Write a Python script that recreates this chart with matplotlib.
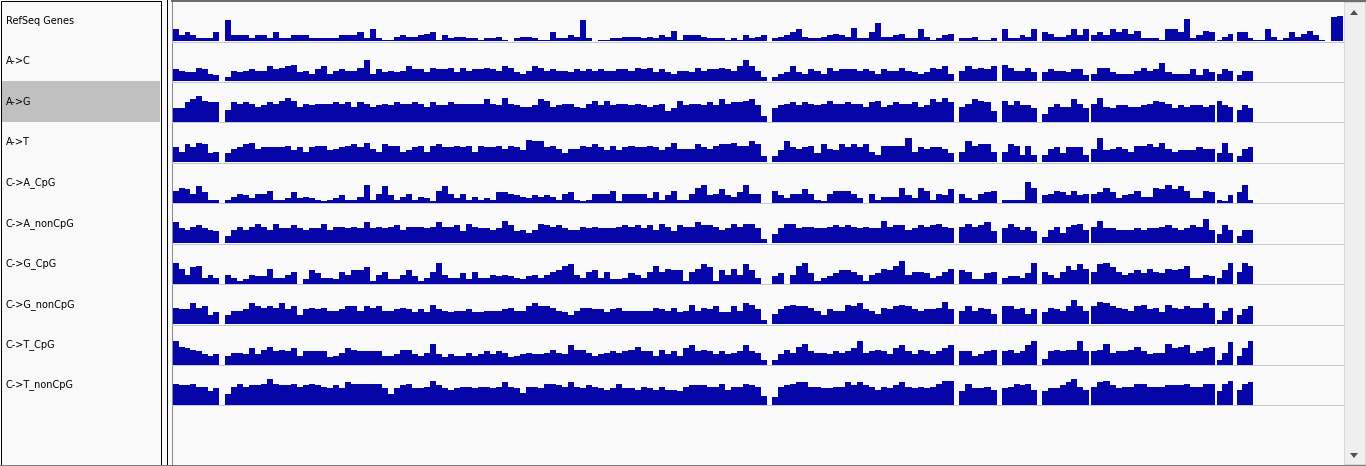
import matplotlib
matplotlib.use("Agg")
import matplotlib.pyplot as plt
import numpy as np
from matplotlib.patches import Rectangle, Polygon

# ---------------- data ----------------
TRACK_NAMES = ["RefSeq Genes", "A->C", "A->G", "A->T", "C->A_CpG", "C->A_nonCpG",
               "C->G_CpG", "C->G_nonCpG", "C->T_CpG", "C->T_nonCpG"]
HIGHLIGHTED = "A->G"

# genomic blocks with data (start, end) in screen-scale kb units
BLOCK_START = [173, 225, 772, 959, 1002, 1042, 1091, 1217, 1237, 1253]
BLOCK_END = [219, 767, 954, 997, 1037, 1089, 1215, 1233, 1253, 1343]

REFSEQ = [
    [4, 2, 3, 2, 1, 1, 1, 3],
    [7, 2, 2, 2, 1, 2, 2, 1, 3, 1, 1, 2, 2, 2, 1, 1, 1, 1, 1, 2, 2,
     2, 3, 1, 4, 1, 0.5, 0.5, 1.5, 2, 1.5, 1.5, 2, 2.5, 3, 0.5, 2, 1, 1.5, 1.5, 1, 1, 0.5, 1, 1, 1.5, 0.5, 0, 1, 1.5, 1.5, 1,
     0.5, 0.5, 3, 1, 1, 2, 1.5, 7, 1, 0, 0.5, 0.5, 1, 1, 1.5, 1.5, 1.5, 1, 1.5, 1, 2, 1.5, 3.5, 0.5, 2, 2, 2, 1.5, 1, 1, 1,
     0.5, 1, 0.5, 2, 1, 1.5, 2],
    [1, 1.5, 2, 3, 4, 1.5, 1, 1, 1.5, 2, 2.5, 2, 1.5, 4.5, 1, 1, 3, 6, 1.5, 1.5, 2, 2.5, 1, 1, 4, 1.5, 0.5, 1, 2, 2.5],
    [1, 1, 1.5, 0.5, 0.5, 1],
    [4, 1, 1, 2, 1.5, 4],
    [3, 2.5, 1.5, 1.5, 2, 4, 2, 4],
    [2, 3, 2, 4, 3, 4, 2.5, 3.5, 1, 1, 1, 0.5, 4, 4, 3, 7.5, 1, 2, 3.5, 3],
    [0.5, 1.5, 2.5],
    [3, 3, 1],
    [0.5, 0.5, 4, 1.5, 0.5, 1, 3, 1.5, 2.5, 3.5, 2, 0.5, 0, 8, 8.5],
]
A_TO_C = [
    [4, 3.5, 3, 3, 4.5, 4, 2.5, 2],
    [1.5, 3.5, 3, 3.5, 4, 3.5, 3.5, 5, 4, 4.5, 5, 5.5, 3, 3.5, 2.5, 4, 5, 2.5, 3.5, 4, 3.5,
     3.5, 4.5, 7, 2.5, 4, 3, 3.5, 3, 3.5, 5, 4, 4, 3, 4.5, 4, 4, 4.5, 3, 4.5, 3.5, 4, 4, 4.5, 4, 3.5, 5, 4.5, 3, 2.5, 3.5, 5,
     4.5, 3.5, 4, 3.5, 3.5, 3, 4, 3.5, 4, 3.5, 4, 3.5, 3.5, 4, 4, 3.5, 4.5, 4, 4.5, 3, 4, 3, 2.5, 3.5, 3.5, 3, 4.5, 3.5, 4, 4, 4.5,
     4, 3.5, 5, 7, 5, 3.5, 1.5],
    [1.5, 2.5, 3, 5, 3, 2.5, 4, 3.5, 2.5, 4.5, 3.5, 4, 4, 4, 3.5, 4, 3.5, 2.5, 4, 3.5, 3.5, 4.5, 3.5, 3, 2.5, 3, 4.5, 4, 5, 2.5],
    [3.5, 5, 4, 4.5, 4, 5],
    [5.5, 4.5, 3.5, 3.5, 4.5, 3],
    [3, 4, 3.5, 3.5, 3, 4, 4, 2],
    [2.5, 4.5, 4.5, 3, 2.5, 2.5, 2.5, 3.5, 4.5, 3.5, 4, 6, 3, 2.5, 2.5, 2.5, 4, 2, 4, 3],
    [2.5, 4, 3.5],
    [2, 3.5, 3.5],
]
A_TO_G = [
    [4.5, 4.5, 6.5, 7.5, 8.5, 7, 6.5, 6.5],
    [4, 6.5, 6, 6.5, 6, 5, 5.5, 6.5, 6, 7, 8, 7, 5, 6, 5.5, 6, 6, 6, 6.5, 6, 6.5,
     5, 6.5, 6, 5, 5.5, 6, 5.5, 6.5, 6, 6, 6.5, 6, 5, 6.5, 5.5, 5.5, 6.5, 6, 6, 6, 6, 6, 7.5, 6, 5.5, 8, 6, 5.5, 5, 5, 5.5,
     7.5, 7, 5, 5.5, 6, 6, 5, 4.5, 6, 7, 5.5, 7, 5.5, 6, 6, 5.5, 6, 5.5, 5, 5.5, 6, 3.5, 4.5, 7, 5.5, 6, 6, 5.5, 6.5, 5.5, 7.5,
     6, 6.5, 6.5, 7, 7.5, 5.5, 2],
    [4.5, 5.5, 6, 6.5, 5.5, 6.5, 6, 5.5, 6, 7, 6, 6, 6.5, 6, 6, 5, 6.5, 7, 5, 5.5, 6.5, 6, 6, 6.5, 5, 5.5, 7.5, 6.5, 8, 6.5],
    [5, 6, 7.5, 7, 6.5, 3.5],
    [7, 5.5, 7, 5.5, 5.5, 4.5],
    [2.5, 5, 6, 5, 5, 7.5, 6, 4.5],
    [6, 8, 5, 4.5, 5.5, 5.5, 5, 5, 5.5, 6, 7, 6.5, 6, 4.5, 5.5, 5, 5.5, 5.5, 5, 5.5],
    [7, 5.5, 5],
    [4, 5.5, 4.5],
]
A_TO_T = [
    [5, 3.5, 6, 5, 6.5, 6, 3, 3.5],
    [3, 4.5, 5, 6, 6.5, 4.5, 5, 5, 5, 5, 5.5, 4, 5, 3.5, 5, 5.5, 5.5, 4, 4.5, 5, 5.5,
     6, 5, 6.5, 4.5, 3.5, 6, 5.5, 5.5, 3.5, 4, 5, 5.5, 3.5, 5.5, 6, 5, 5, 5.5, 5, 5.5, 3.5, 5.5, 5, 5, 5.5, 4.5, 5.5, 5, 4, 7.5, 7,
     7, 5, 5.5, 4.5, 3, 4.5, 4.5, 5.5, 5, 6, 5, 4, 5.5, 4, 5, 5.5, 5, 5, 5.5, 5, 4, 5, 6.5, 4.5, 4.5, 4.5, 6, 5, 4.5, 5.5, 6,
     6, 6.5, 5.5, 5.5, 7, 6, 2],
    [2, 4, 7, 5, 4.5, 5, 5.5, 3, 6, 4.5, 4, 6, 5, 6, 5, 6, 3.5, 2.5, 5.5, 5.5, 5.5, 5.5, 8, 3.5, 5, 4.5, 5, 5, 4.5, 3],
    [3.5, 7, 5.5, 6, 6, 3.5],
    [3.5, 6, 5.5, 2.5, 5.5, 2.5],
    [2.5, 4.5, 5, 3, 5, 5, 5, 2.5],
    [4.5, 8, 4, 4.5, 5, 4.5, 3.5, 5.5, 5.5, 6, 5, 6.5, 4.5, 3.5, 4, 4, 4, 5, 4.5, 4.5],
    [3, 6.5, 3],
    [2, 4.5, 5],
]
C_TO_A_CPG = [
    [4, 5, 4.5, 3, 5.5, 3.5, 1, 1],
    [1, 2, 3, 2.5, 1.5, 3, 3, 4, 1, 1, 1.5, 3.5, 1.5, 2, 1.5, 1, 0.5, 1, 1.5, 2.5, 1,
     1, 2, 6, 1, 3, 5.5, 2.5, 1, 2, 3, 1, 2, 1.5, 0.5, 4, 5.5, 3, 1.5, 3, 1, 2, 1, 1.5, 1, 3.5, 3.5, 3, 2.5, 2, 1.5, 2.5,
     2, 2.5, 2, 1, 3, 3.5, 1, 0.5, 1, 3, 3, 3, 4, 0.5, 3, 3, 3, 3, 1.5, 3.5, 1, 2.5, 4, 1, 1, 3, 5, 6, 2.5, 3, 4.5,
     2.5, 2, 3.5, 6, 3, 3, 0],
    [4, 2.5, 1.5, 3, 3, 4.5, 3, 1, 0.5, 3, 4, 4, 4, 3, 1.5, 0, 3, 1, 2, 2, 2, 5, 2.5, 1.5, 5, 4, 1, 3, 2.5, 4.5],
    [3, 1.5, 1, 3, 3.5, 4],
    [1, 1, 1, 1, 7, 5],
    [2.5, 3, 4, 3.5, 2.5, 4, 2.5, 3],
    [3, 3.5, 5, 3.5, 1.5, 2.5, 3, 4, 2, 2, 5, 4.5, 6, 4.5, 5.5, 4, 1.5, 1.5, 4, 3.5],
    [1, 0.5, 2.5],
    [3.5, 6, 1],
]
C_TO_A_NONCPG = [
    [7, 5, 4.5, 5.5, 6, 5, 4.5, 4],
    [2.5, 4.5, 5.5, 4.5, 5.5, 6.5, 5.5, 4.5, 6.5, 5, 5, 6, 5, 4.5, 5, 5, 6.5, 4.5, 5.5, 5.5, 5,
     5.5, 5, 7, 5, 5.5, 5, 5.5, 6, 4.5, 5.5, 5.5, 5.5, 5, 5.5, 7, 5.5, 5.5, 6, 4, 6.5, 5.5, 5, 5, 4.5, 5, 7.5, 6, 4, 4.5, 3.5, 4.5,
     6.5, 6, 5.5, 6, 5, 4.5, 4.5, 5.5, 5, 5.5, 5, 5, 5, 5.5, 6, 5.5, 6, 5, 6, 4.5, 6.5, 5.5, 4, 6, 5.5, 5.5, 7, 6, 6, 5.5, 4.5,
     5, 6.5, 5.5, 6.5, 6.5, 5, 1.5],
    [3, 5, 6.5, 6.5, 5, 5.5, 5.5, 5, 5, 5.5, 6, 5.5, 6, 5.5, 5, 5.5, 5, 5, 7.5, 5.5, 6, 6, 4.5, 5, 6, 5.5, 6, 6.5, 5.5, 5],
    [5.5, 6.5, 5.5, 6, 7, 4],
    [5, 6.5, 5.5, 4.5, 5.5, 4],
    [2, 4.5, 5.5, 3.5, 5.5, 6, 6.5, 4.5],
    [5.5, 7.5, 5, 5, 4.5, 4.5, 4.5, 5, 4.5, 5, 5, 5.5, 6, 5, 4.5, 5, 6, 5.5, 8, 4.5],
    [3, 6, 4.5],
    [2.5, 4.5, 4.5],
]
C_TO_G_CPG = [
    [7, 5, 3, 5.5, 6, 2, 3, 2],
    [3, 2, 1, 1.5, 3, 2.5, 2.5, 5, 2, 2, 3, 4, 0, 1.5, 4.5, 3.5, 2, 2, 1.5, 4, 3,
     4.5, 4.5, 5.5, 1, 3, 4, 1.5, 1.5, 3, 4.5, 2.5, 1, 2, 4, 7, 3, 2, 2, 3.5, 1.5, 4, 2, 2, 3, 2.5, 3, 2.5, 2, 1.5, 2.5, 3,
     2, 3, 4, 4.5, 6, 6.5, 3, 2, 4, 4.5, 2, 4, 1.5, 1.5, 2, 3.5, 3, 2, 4, 6, 4, 5, 4.5, 4.5, 1, 4, 5, 6.5, 5.5, 1, 4.5,
     3, 5, 3, 6.5, 4.5, 2, 0],
    [2.5, 3.5, 0, 3, 6, 7, 3.5, 1, 2, 2.5, 3.5, 4.5, 4.5, 4, 3, 1, 3, 3.5, 5, 4.5, 6, 7.5, 3, 4, 4, 3.5, 2, 2.5, 4, 5],
    [4.5, 4, 1.5, 1.5, 3.5, 4],
    [2, 2.5, 2.5, 2, 3.5, 7],
    [4, 3, 2, 4, 6, 4.5, 6.5, 5],
    [4, 6.5, 7, 5.5, 4, 3, 3.5, 4.5, 3.5, 5, 4, 3.5, 5, 4.5, 5, 6, 2, 2, 3, 2.5],
    [2, 4.5, 7],
    [4, 7, 6],
]
C_TO_G_NONCPG = [
    [5.5, 5, 5, 7, 5.5, 6, 3, 4],
    [3, 4.5, 4.5, 5, 7, 6, 5.5, 6, 5.5, 7, 5, 6, 3, 5, 5.5, 5, 5.5, 4.5, 4.5, 5, 6,
     6, 4.5, 6, 5.5, 6, 4.5, 4.5, 5, 5.5, 5, 4, 5, 4, 6.5, 5, 4.5, 4, 4.5, 4.5, 5, 4, 4, 4.5, 4.5, 4.5, 5, 5.5, 4.5, 4.5, 6, 7,
     6, 6, 5.5, 4.5, 4, 3, 4.5, 5.5, 5.5, 5, 5, 4, 5, 5.5, 4.5, 4.5, 4.5, 4.5, 4.5, 5.5, 5, 4.5, 5.5, 4, 4.5, 6.5, 4.5, 5.5, 5, 6, 4,
     4, 6, 4.5, 7, 6.5, 5, 1.5],
    [3.5, 5, 6, 6.5, 6, 6, 5.5, 4.5, 3, 5, 4.5, 4.5, 6.5, 6, 7, 5, 4.5, 3.5, 5.5, 5, 6, 6.5, 6, 5, 4.5, 5, 5, 5.5, 7.5, 5],
    [4.5, 6, 4.5, 5.5, 5, 3.5],
    [6, 6, 5, 5.5, 3.5, 5],
    [4, 5.5, 5, 4.5, 6, 8, 6, 4.5],
    [6, 7.5, 7, 6, 5.5, 5, 4.5, 6, 6.5, 5, 5.5, 4, 6.5, 5.5, 5, 6, 5.5, 5.5, 7, 5.5],
    [1.5, 4.5, 5.5],
    [3, 5, 6],
]
C_TO_T_CPG = [
    [8, 6, 5.5, 5, 4.5, 3.5, 3, 3.5],
    [3, 4, 4, 3.5, 5.5, 3.5, 5, 6, 4.5, 5, 4.5, 5.5, 3, 4.5, 4.5, 4.5, 4.5, 2.5, 3, 4, 5.5,
     5, 4.5, 4.5, 4.5, 4.5, 3, 3, 3.5, 5, 5, 3.5, 3, 4, 7, 3.5, 2.5, 3.5, 3, 3, 4, 3, 3.5, 4.5, 3.5, 4.5, 4, 2.5, 3, 3.5, 4, 3.5,
     3.5, 4, 5, 4, 3.5, 6.5, 5, 5, 4, 3, 3.5, 4, 4.5, 4, 4.5, 5, 6, 4.5, 4.5, 3, 5, 3.5, 4.5, 3, 5.5, 6.5, 4.5, 5, 4.5, 3.5, 4.5,
     3.5, 4, 4.5, 6.5, 4.5, 4, 1.5],
    [1.5, 3.5, 5, 4, 6, 7, 4.5, 4, 4, 3.5, 4.5, 4, 4.5, 5.5, 8, 4, 4.5, 5, 4.5, 3.5, 5.5, 6.5, 4.5, 3.5, 5, 4.5, 3.5, 4.5, 5.5, 6.5],
    [4.5, 4.5, 3, 3.5, 4.5, 5],
    [4.5, 5, 4, 4.5, 6.5, 8],
    [2, 4.5, 5, 4.5, 5, 5, 8, 4.5],
    [4.5, 5, 7, 4, 4.5, 4.5, 5, 6, 4.5, 3.5, 4, 4, 7, 5.5, 6, 6.5, 4, 4.5, 5.5, 6],
    [1.5, 4, 7.5],
    [3, 5.5, 8],
]
C_TO_T_NONCPG = [
    [7, 6.5, 6.5, 7, 6, 6, 4.5, 5.5],
    [3.5, 6, 7, 6, 6.5, 6.5, 7, 8.5, 7, 6.5, 6.5, 7, 6, 6.5, 7, 6.5, 6, 5.5, 6.5, 5.5, 7.5,
     7, 7, 7, 7, 7, 5.5, 3.5, 5.5, 6.5, 7, 5.5, 5.5, 6, 8, 6.5, 5.5, 5, 5.5, 6, 6, 5.5, 6, 6, 5.5, 6, 7.5, 6, 5.5, 4, 6, 6,
     5.5, 7, 7, 6.5, 6, 7.5, 6, 5.5, 6.5, 6, 5.5, 5, 5.5, 7, 5.5, 5.5, 5, 6, 5.5, 5, 6, 5, 5, 4.5, 6, 6.5, 6.5, 6.5, 6, 6, 7,
     5, 6, 6, 7, 6.5, 6, 3],
    [2.5, 6, 6.5, 7, 7.5, 7.5, 6, 6, 5.5, 5.5, 6, 6, 7.5, 6.5, 7.5, 6.5, 6, 5, 6, 5.5, 6.5, 7.5, 6, 5.5, 6, 5.5, 6, 7, 8, 8],
    [4.5, 7, 5.5, 5.5, 6, 5],
    [5.5, 6, 7, 6.5, 7, 5],
    [4.5, 5.5, 5.5, 6.5, 7.5, 8.5, 6, 5],
    [6, 7.5, 8, 6.5, 5.5, 6, 6, 7, 7, 6, 6, 6, 6.5, 6.5, 6.5, 7, 6, 6, 7, 7],
    [4.5, 7, 8],
    [5, 7, 7.5],
]
TRACKS = [REFSEQ, A_TO_C, A_TO_G, A_TO_T, C_TO_A_CPG, C_TO_A_NONCPG,
          C_TO_G_CPG, C_TO_G_NONCPG, C_TO_T_CPG, C_TO_T_NONCPG]

# ---------------- layout / style ----------------
W, H = 1366, 466
BG = "#f9f9f9"
BAR = "#0606a8"
SEP = "#c8c8d4"
PX = 0.72  # one pixel in points at 100 dpi

DATA_X0, DATA_X1 = 172, 1343
TRACK_H = 40.44
FIRST_BASE = 41.0
YMAX = TRACK_H / 3.0

fig = plt.figure(figsize=(W / 100, H / 100), dpi=100, facecolor=BG)
bg = fig.add_axes([0, 0, 1, 1])
bg.set_xlim(0, W)
bg.set_ylim(H, 0)
bg.axis("off")

# name panel
hi = TRACK_NAMES.index(HIGHLIGHTED)
hb = FIRST_BASE + hi * TRACK_H
bg.add_patch(Rectangle((1, hb - TRACK_H), 159, TRACK_H, facecolor="#c0c0c0", edgecolor="none"))
bg.add_patch(Rectangle((0.5, 0.5), 160, 464, facecolor="none", edgecolor="black", linewidth=PX))
bg.plot([166.5, 166.5], [0, 465], color="black", linewidth=PX)

# data panel frame
bg.add_patch(Rectangle((DATA_X0 - 0.5, 1), DATA_X1 - DATA_X0 + 1, 463.5, facecolor="none",
                       edgecolor="#8a8a8a", linewidth=PX))
bg.plot([DATA_X0 - 0.5, W], [1, 1], color="#6e6e6e", linewidth=2 * PX)

# scrollbar
bg.add_patch(Rectangle((DATA_X1 + 1, 2), W - DATA_X1 - 2, 462, facecolor="#efefef",
                       edgecolor="#d8d8d8", linewidth=PX))
bg.add_patch(Polygon([[1350, 15], [1358, 15], [1354, 10]], closed=True, facecolor="#505050", edgecolor="none"))
bg.add_patch(Polygon([[1350, 453], [1358, 453], [1354, 458]], closed=True, facecolor="#505050", edgecolor="none"))
bg.plot([0, W], [465, 465], color="#7a7a7a", linewidth=PX)

for k, (name, blocks) in enumerate(zip(TRACK_NAMES, TRACKS)):
    base = FIRST_BASE + k * TRACK_H
    top = base - TRACK_H
    bg.plot([DATA_X0, DATA_X1], [base + 0.5, base + 0.5], color=SEP, linewidth=PX)
    bg.text(6, base - 20, name, fontsize=7, color="black", va="center", ha="left",
            family="DejaVu Sans")
    ax = fig.add_axes([DATA_X0 / W, 1 - base / H, (DATA_X1 - DATA_X0) / W, TRACK_H / H])
    ax.set_xlim(DATA_X0, DATA_X1)
    ax.set_ylim(0, YMAX)
    ax.axis("off")
    ax.patch.set_alpha(0)
    for b, vals in enumerate(blocks):
        edges = np.linspace(BLOCK_START[b], BLOCK_END[b], len(vals) + 1)
        ax.stairs(vals, edges, fill=True, baseline=0, color=BAR, linewidth=0)

fig.savefig("out.png", dpi=100, facecolor=BG)
